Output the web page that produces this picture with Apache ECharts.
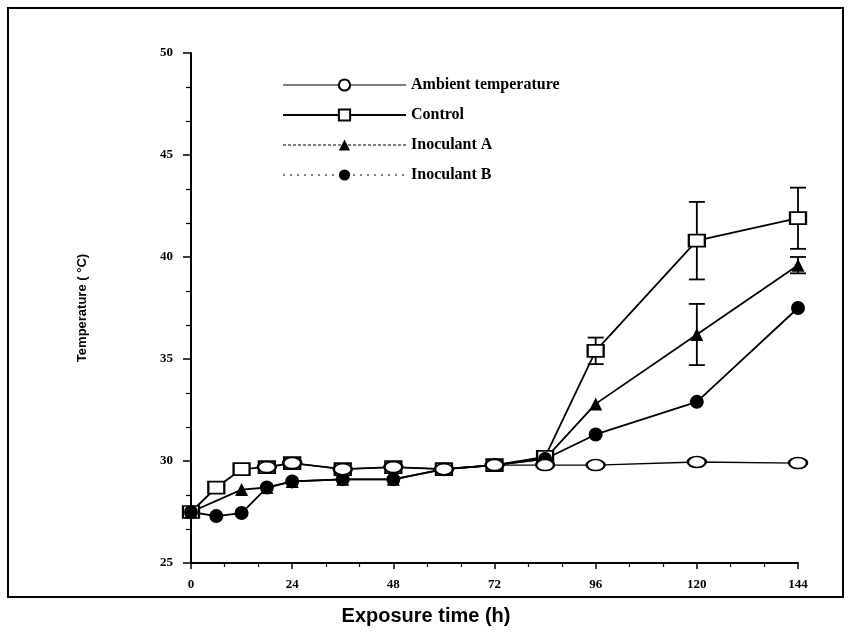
<!DOCTYPE html>
<html>
<head>
<meta charset="utf-8">
<script src="https://cdn.jsdelivr.net/npm/echarts@6/dist/echarts.min.js"></script>
<style>html,body{margin:0;padding:0;background:#fff;}#c{width:852px;height:640px;}</style>
</head>
<body>
<div id="c"></div>
<script>
// ---- data ----
const seriesNames = ['Ambient temperature', 'Control', 'Inoculant A', 'Inoculant B'];
const xTicks = [0, 24, 48, 72, 96, 120, 144];
const yTicks = [25, 30, 35, 40, 45, 50];

const ambientHours = [18, 24, 36, 48, 60, 72, 84, 96, 120, 144];
const ambientTemp  = [29.7, 29.9, 29.6, 29.7, 29.6, 29.8, 29.8, 29.8, 29.95, 29.9];

const controlHours = [0, 6, 12, 18, 24, 36, 48, 60, 72, 84, 96, 120, 144];
const controlTemp  = [27.5, 28.7, 29.6, 29.7, 29.9, 29.6, 29.7, 29.6, 29.8, 30.2, 35.4, 40.8, 41.9];

const inocAHours = [0, 12, 18, 24, 36, 48, 60, 72, 84, 96, 120, 144];
const inocATemp  = [27.5, 28.6, 28.7, 29.0, 29.1, 29.1, 29.6, 29.8, 30.1, 32.8, 36.2, 39.6];

const inocBHours = [0, 6, 12, 18, 24, 36, 48, 60, 72, 84, 96, 120, 144];
const inocBTemp  = [27.5, 27.3, 27.45, 28.7, 29.0, 29.1, 29.1, 29.6, 29.8, 30.1, 31.3, 32.9, 37.5];

// error bars (± °C)
const controlErrHours = [96, 120, 144];
const controlErr      = [0.65, 1.9, 1.5];
const inocAErrHours   = [120, 144];
const inocAErr        = [1.5, 0.4];

// ---- build ----
function pairs(h, v) { return h.map((x, i) => [x, v[i]]); }
function errData(hours, vals, errs, allH) {
  return hours.map((h, i) => {
    const y = vals[allH.indexOf(h)];
    return [h, y - errs[i], y + errs[i]];
  });
}
function errSeries(data) {
  return {
    type: 'custom', silent: true, z: 1,
    data: data,
    renderItem: function (params, api) {
      const x = api.value(0);
      const lo = api.coord([x, api.value(1)]);
      const hi = api.coord([x, api.value(2)]);
      const w = 8;
      const st = { stroke: '#000', lineWidth: 1.8 };
      return { type: 'group', children: [
        { type: 'line', shape: { x1: lo[0], y1: lo[1], x2: hi[0], y2: hi[1] }, style: st },
        { type: 'line', shape: { x1: hi[0] - w, y1: hi[1], x2: hi[0] + w, y2: hi[1] }, style: st },
        { type: 'line', shape: { x1: lo[0] - w, y1: lo[1], x2: lo[0] + w, y2: lo[1] }, style: st }
      ]};
    }
  };
}

const chart = echarts.init(document.getElementById('c'), null, { renderer: 'canvas' });
const lblFont = { color: '#000', fontFamily: 'Liberation Serif', fontWeight: 'bold', fontSize: 13 };

chart.setOption({
  backgroundColor: '#fff',
  animation: false,
  title: {
    text: 'Exposure time (h)', left: 'center', top: 601,
    textStyle: { fontFamily: 'Liberation Sans', fontWeight: 'bold', fontSize: 20, color: '#000' }
  },
  graphic: [{
    type: 'rect', shape: { x: 8, y: 8, width: 835, height: 589 },
    style: { fill: 'none', stroke: '#000', lineWidth: 2 }, silent: true, z: -1
  }],
  legend: {
    orient: 'vertical', left: 277, top: 72,
    itemWidth: 123, itemHeight: 14, itemGap: 14,
    textStyle: { fontFamily: 'Liberation Serif', fontSize: 16, fontWeight: 'bold', color: '#000' },
    data: [
      { name: seriesNames[0], lineStyle: { type: 'solid', width: 1.2 } },
      { name: seriesNames[1], lineStyle: { type: 'solid', width: 2 } },
      { name: seriesNames[2], lineStyle: { type: [3, 2], width: 1.2 } },
      { name: seriesNames[3], lineStyle: { type: [2, 5], width: 1.2 } }
    ]
  },
  grid: { left: 191, right: 54, top: 53, bottom: 77 },
  xAxis: {
    type: 'value', min: 0, max: 144, interval: 24,
    axisLine: { lineStyle: { color: '#000', width: 2 } },
    axisTick: { show: true, length: 6, lineStyle: { color: '#000', width: 1.5 } },
    minorTick: { show: true, splitNumber: 3, length: 4, lineStyle: { color: '#000', width: 1.2 } },
    splitLine: { show: false },
    axisLabel: Object.assign({ margin: 15, customValues: xTicks }, lblFont)
  },
  yAxis: {
    type: 'value', min: 25, max: 50, interval: 5,
    name: 'Temperature ( °C)', nameLocation: 'middle', nameGap: 102, nameRotate: 90,
    nameTextStyle: { fontFamily: 'Liberation Sans', fontWeight: 'bold', fontSize: 13, color: '#000' },
    axisLine: { show: true, lineStyle: { color: '#000', width: 2 } },
    axisTick: { show: true, length: 8, lineStyle: { color: '#000', width: 1.5 } },
    minorTick: { show: true, splitNumber: 3, length: 5, lineStyle: { color: '#000', width: 1.2 } },
    splitLine: { show: false },
    axisLabel: Object.assign({ margin: 18 }, lblFont)
  },
  series: [
    {
      name: seriesNames[0], type: 'line', data: pairs(ambientHours, ambientTemp),
      symbol: 'emptyCircle', symbolSize: [18, 11], z: 3,
      lineStyle: { color: '#000', width: 1.3 },
      itemStyle: { color: '#000', borderColor: '#000', borderWidth: 2.5 }
    },
    {
      name: seriesNames[1], type: 'line', data: pairs(controlHours, controlTemp),
      symbol: 'emptyRect', symbolSize: [16, 12], z: 2,
      lineStyle: { color: '#000', width: 1.8 },
      itemStyle: { color: '#000', borderColor: '#000', borderWidth: 2.5 }
    },
    {
      name: seriesNames[2], type: 'line', data: pairs(inocAHours, inocATemp),
      symbol: 'triangle', symbolSize: 13, z: 2,
      lineStyle: { color: '#000', width: 1.8 },
      itemStyle: { color: '#000' }
    },
    {
      name: seriesNames[3], type: 'line', data: pairs(inocBHours, inocBTemp),
      symbol: 'circle', symbolSize: 14, z: 2,
      lineStyle: { color: '#000', width: 1.8 },
      itemStyle: { color: '#000' }
    },
    errSeries(errData(controlErrHours, controlTemp, controlErr, controlHours)),
    errSeries(errData(inocAErrHours, inocATemp, inocAErr, inocAHours))
  ]
});
</script>
</body>
</html>
